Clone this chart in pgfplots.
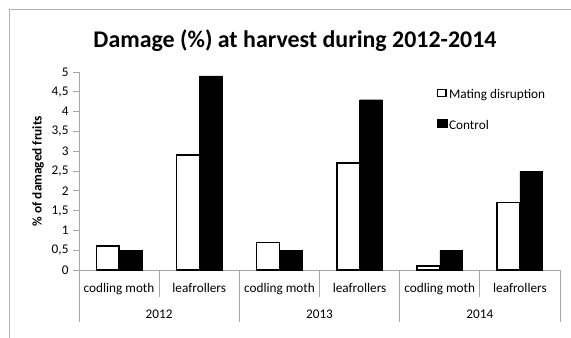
\documentclass[border=0pt]{standalone}
\usepackage{pgfplots}
\pgfplotsset{compat=1.18}
\usepackage{fontspec}
\setmainfont{Carlito}
\definecolor{axgray}{HTML}{A6A6A6}
\definecolor{bordergray}{HTML}{B0B0B0}
\newcommand{\lbl}{\fontsize{13.3}{15}\selectfont}
\pgfplotsset{
  sqlegendA/.style={legend image code/.code={\draw[##1] (0bp,-1.5bp) rectangle (8.5bp,5.5bp);}},
  sqlegendB/.style={legend image code/.code={\draw[##1] (0bp,-2bp) rectangle (9.5bp,6bp);}},
}
\begin{document}
\begin{tikzpicture}
\useasboundingbox (0,0) rectangle (571bp,-338bp);
\draw[bordergray, line width=0.8bp] (9bp,-345bp) -- (9bp,-9bp) -- (580bp,-9bp);
\begin{axis}[
  at={(79bp,-270bp)}, anchor=south west,
  scale only axis, width=481bp, height=198bp,
  xmin=-0.5, xmax=5.5, ymin=0, ymax=5,
  clip=false,
  axis lines*=left,
  axis line style={axgray, line width=0.8bp, -},
  xtick=\empty,
  ytick={0,0.5,1,1.5,2,2.5,3,3.5,4,4.5,5},
  yticklabels={0,{0,5},1,{1,5},2,{2,5},3,{3,5},4,{4,5},5},
  tick align=outside, major tick length=6bp,
  ytick style={axgray, line width=0.8bp},
  yticklabel style={font=\lbl, xshift=-1bp},
  ybar=0pt, bar width=22.7bp,
  title={Damage (\%) at harvest during 2012-2014},
  title style={font=\bfseries\fontsize{24}{28}\selectfont, at={(axis description cs:0.449,1.128)}, anchor=center},
  ylabel={\% of damaged fruits},
  ylabel style={font=\bfseries\lbl, at={(axis description cs:-0.0852,0.5)}, anchor=center},
  legend style={at={(axis description cs:0.743,0.922)}, anchor=north west, draw=none, fill=none,
    font=\lbl, row sep=15.5bp, inner sep=0pt, nodes={inner sep=2bp}},
  legend cell align=left,
]
\addplot[fill=white, draw=black, line width=1.5bp, sqlegendA]
  coordinates {(0,0.6) (1,2.9) (2,0.7) (3,2.7) (4,0.1) (5,1.7)};
\addlegendentry{Mating disruption}
\addplot[fill=black, draw=black, sqlegendB]
  coordinates {(0,0.5) (1,4.9) (2,0.5) (3,4.3) (4,0.5) (5,2.5)};
\addlegendentry{Control}
% category separators
\draw[axgray, line width=0.8bp] (axis cs:0.5,0) -- ([yshift=-26.7bp]axis cs:0.5,0);
\draw[axgray, line width=0.8bp] (axis cs:2.5,0) -- ([yshift=-26.7bp]axis cs:2.5,0);
\draw[axgray, line width=0.8bp] (axis cs:4.5,0) -- ([yshift=-26.7bp]axis cs:4.5,0);
\draw[axgray, line width=0.8bp] (axis cs:-0.5,0) -- ([yshift=-51.7bp]axis cs:-0.5,0);
\draw[axgray, line width=0.8bp] (axis cs:1.5,0) -- ([yshift=-51.7bp]axis cs:1.5,0);
\draw[axgray, line width=0.8bp] (axis cs:3.5,0) -- ([yshift=-51.7bp]axis cs:3.5,0);
\draw[axgray, line width=0.8bp] (axis cs:5.5,0) -- ([yshift=-51.7bp]axis cs:5.5,0);
% category labels
\node[font=\lbl, anchor=base, yshift=-22.5bp] at (axis cs:0,0) {codling moth};
\node[font=\lbl, anchor=base, yshift=-22.5bp] at (axis cs:1,0) {leafrollers};
\node[font=\lbl, anchor=base, yshift=-22.5bp] at (axis cs:2,0) {codling moth};
\node[font=\lbl, anchor=base, yshift=-22.5bp] at (axis cs:3,0) {leafrollers};
\node[font=\lbl, anchor=base, yshift=-22.5bp] at (axis cs:4,0) {codling moth};
\node[font=\lbl, anchor=base, yshift=-22.5bp] at (axis cs:5,0) {leafrollers};
\node[font=\lbl, anchor=base, yshift=-48.3bp] at (axis cs:0.5,0) {2012};
\node[font=\lbl, anchor=base, yshift=-48.3bp] at (axis cs:2.5,0) {2013};
\node[font=\lbl, anchor=base, yshift=-48.3bp] at (axis cs:4.5,0) {2014};
\end{axis}
\end{tikzpicture}
\end{document}
